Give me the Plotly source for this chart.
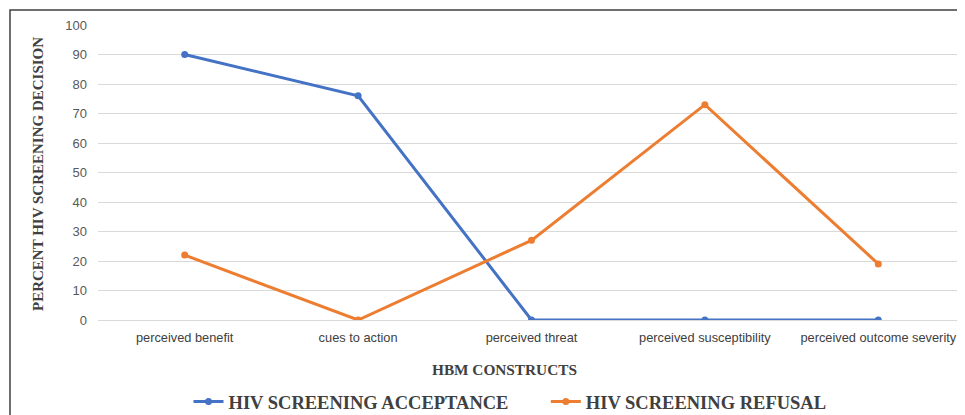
import plotly.graph_objects as go

categories = ["perceived benefit", "cues to action", "perceived threat",
              "perceived susceptibility", "perceived outcome severity"]
acceptance = [90, 76, 0, 0, 0]
refusal = [22, 0, 27, 73, 19]
y_ticks = [0, 10, 20, 30, 40, 50, 60, 70, 80, 90, 100]

# page body has an 8px margin, so the figure is sized/positioned to compensate
OFF = 8
W, H = 965 - OFF, 415 - OFF
L, R, T, B = 98 - OFF, 0, 25 - OFF, 415 - 320
PW, PH = W - L - R, H - T - B


def px(xp):
    return (xp - OFF - L) / PW


def py(yp):
    return (H - B - (yp - OFF)) / PH


fig = go.Figure()
fig.add_trace(go.Scatter(x=categories, y=acceptance, mode="lines+markers",
                         name="<b>HIV SCREENING ACCEPTANCE</b>" + "&nbsp;" * 7,
                         line=dict(color="#4472C4", width=3),
                         marker=dict(size=7, color="#4472C4")))
fig.add_trace(go.Scatter(x=categories, y=refusal, mode="lines+markers",
                         name="<b>HIV SCREENING REFUSAL</b>",
                         line=dict(color="#ED7D31", width=3),
                         marker=dict(size=7, color="#ED7D31")))

serif = "Liberation Serif, Times New Roman, serif"
fig.update_layout(
    width=W, height=H,
    margin=dict(l=L, r=R, t=T, b=B, autoexpand=False),
    plot_bgcolor="white", paper_bgcolor="white",
    showlegend=True,
    legend=dict(orientation="h", xref="container", yref="container",
                x=(510 - OFF) / W, xanchor="center",
                y=1 - (402 - OFF) / H, yanchor="middle",
                font=dict(family=serif, size=18.5, color="#404040"),
                tracegroupgap=0),
    xaxis=dict(showgrid=False, showline=False, zeroline=False,
               ticks="", ticklabelstandoff=8,
               tickfont=dict(family="Liberation Sans Narrow, Arial Narrow, sans-serif",
                             size=12.8, color="#404040"),
               range=[-0.5, 4.5]),
    yaxis=dict(range=[0, 100], tickvals=y_ticks, showgrid=True,
               gridcolor="#d9d9d9", gridwidth=1, zeroline=True,
               zerolinecolor="#d9d9d9", zerolinewidth=1, showline=False,
               ticks="", ticklabelstandoff=10,
               tickfont=dict(family="Liberation Sans, Arial, sans-serif",
                             size=13, color="#595959")),
    annotations=[
        dict(text="<b>HBM CONSTRUCTS</b>", xref="paper", yref="paper",
             x=px(504), y=py(369),
             xanchor="center", yanchor="middle", showarrow=False,
             font=dict(family=serif, size=15.3, color="#404040")),
        dict(text="<b>PERCENT HIV SCREENING DECISION</b>", xref="paper", yref="paper",
             x=px(38), y=py(174),
             xanchor="center", yanchor="middle", showarrow=False, textangle=-90,
             font=dict(family=serif, size=15, color="#404040")),
    ],
    shapes=[dict(type="rect", xref="paper", yref="paper",
                 x0=px(10), x1=1.05,
                 y0=-0.5, y1=py(10),
                 line=dict(color="#404040", width=1.5), fillcolor="rgba(0,0,0,0)",
                 layer="below")],
)

fig.write_html("out.html")
